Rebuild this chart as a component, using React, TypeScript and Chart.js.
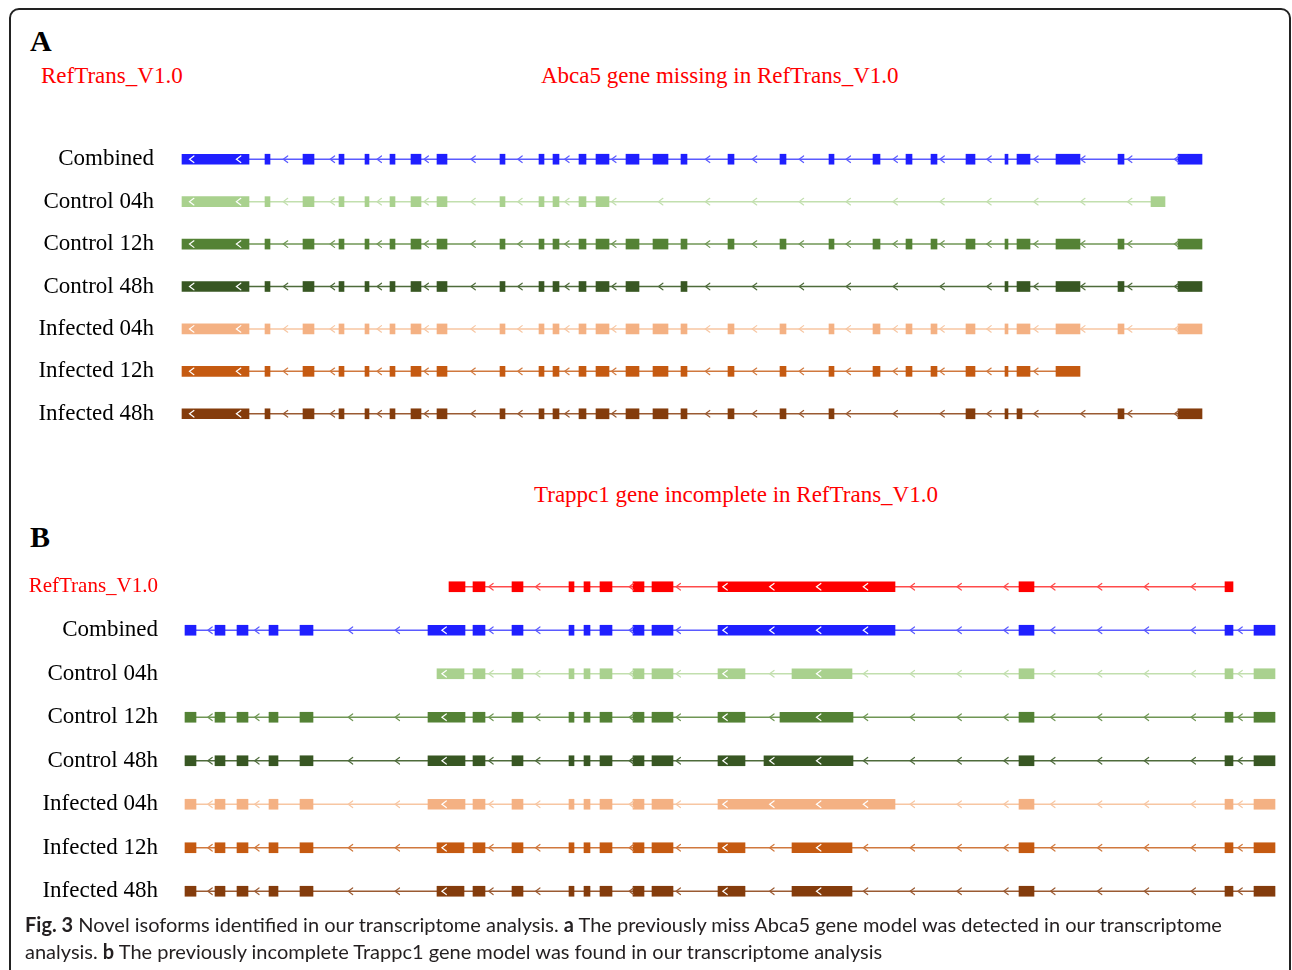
import React, { useEffect, useRef } from "react";
import { Chart, registerables } from "chart.js";

Chart.register(...registerables);

type Exon = [number, number];

// ---------- Panel A (Abca5) ----------
const TRACKS_A = ["Combined", "Control 04h", "Control 12h", "Control 48h", "Infected 04h", "Infected 12h", "Infected 48h"];

const A_COMBINED: Exon[] = [[182, 249], [265, 270], [303, 314], [339, 344], [365, 369], [390, 395], [411, 421], [437, 447], [500, 505], [539, 544], [553, 559], [579, 586], [596, 609], [626, 639], [653, 668], [681, 687], [728, 734], [780, 786], [829, 834], [873, 880], [906, 912], [931, 937], [966, 975], [1005, 1008], [1017, 1030], [1056, 1080], [1118, 1124], [1178, 1202]];
const A_CONTROL_04H: Exon[] = [[182, 249], [265, 270], [303, 314], [339, 344], [365, 369], [390, 395], [411, 421], [437, 447], [500, 505], [539, 544], [553, 559], [579, 586], [596, 609], [1151, 1165]];
const A_CONTROL_12H: Exon[] = [[182, 249], [265, 270], [303, 314], [339, 344], [365, 369], [390, 395], [411, 421], [437, 447], [500, 505], [539, 544], [553, 559], [579, 586], [596, 609], [626, 639], [653, 668], [681, 687], [728, 734], [780, 786], [829, 834], [873, 880], [906, 912], [931, 937], [966, 975], [1005, 1008], [1017, 1030], [1056, 1080], [1118, 1124], [1178, 1202]];
const A_CONTROL_48H: Exon[] = [[182, 249], [265, 270], [303, 314], [339, 344], [365, 369], [390, 395], [411, 421], [437, 447], [500, 505], [539, 544], [553, 559], [579, 586], [596, 609], [626, 639], [681, 687], [1005, 1008], [1017, 1030], [1056, 1080], [1118, 1124], [1178, 1202]];
const A_INFECTED_04H: Exon[] = [[182, 249], [265, 270], [303, 314], [339, 344], [365, 369], [390, 395], [411, 421], [437, 447], [500, 505], [539, 544], [553, 559], [579, 586], [596, 609], [626, 639], [653, 668], [681, 687], [728, 734], [780, 786], [829, 834], [873, 880], [906, 912], [931, 937], [966, 975], [1005, 1008], [1017, 1030], [1056, 1080], [1118, 1124], [1178, 1202]];
const A_INFECTED_12H: Exon[] = [[182, 249], [265, 270], [303, 314], [339, 344], [365, 369], [390, 395], [411, 421], [437, 447], [500, 505], [539, 544], [553, 559], [579, 586], [596, 609], [626, 639], [653, 668], [681, 687], [728, 734], [780, 786], [829, 834], [873, 880], [906, 912], [931, 937], [966, 975], [1005, 1008], [1017, 1030], [1056, 1080]];
const A_INFECTED_48H: Exon[] = [[182, 249], [265, 270], [303, 314], [339, 344], [365, 369], [390, 395], [411, 421], [437, 447], [500, 505], [539, 544], [553, 559], [579, 586], [596, 609], [626, 639], [653, 668], [681, 687], [728, 734], [780, 786], [829, 834], [966, 975], [1005, 1008], [1017, 1022], [1118, 1124], [1178, 1202]];

// ---------- Panel B (Trappc1) ----------
const TRACKS_B = ["RefTrans_V1.0", "Combined", "Control 04h", "Control 12h", "Control 48h", "Infected 04h", "Infected 12h", "Infected 48h"];

const B_REFTRANS: Exon[] = [[449, 465], [473, 485], [512, 523], [569, 574], [584, 590], [600, 612], [633, 644], [652, 673], [718, 895], [1019, 1034], [1225, 1233]];
const B_COMBINED: Exon[] = [[185, 196], [215, 225], [237, 248], [269, 278], [300, 313], [428, 465], [473, 485], [512, 523], [569, 574], [584, 590], [600, 612], [633, 644], [652, 673], [718, 895], [1019, 1034], [1225, 1233], [1254, 1275]];
const B_CONTROL_04H: Exon[] = [[437, 464], [473, 485], [512, 523], [569, 574], [584, 590], [600, 612], [633, 644], [652, 673], [718, 745], [792, 852], [1019, 1034], [1225, 1233], [1254, 1275]];
const B_CONTROL_12H: Exon[] = [[185, 196], [215, 225], [237, 248], [269, 278], [300, 313], [428, 465], [473, 485], [512, 523], [569, 574], [584, 590], [600, 612], [633, 644], [652, 673], [718, 745], [780, 853], [1019, 1034], [1225, 1233], [1254, 1275]];
const B_CONTROL_48H: Exon[] = [[185, 196], [215, 225], [237, 248], [269, 278], [300, 313], [428, 465], [473, 485], [512, 523], [569, 574], [584, 590], [600, 612], [633, 644], [652, 673], [718, 745], [764, 853], [1019, 1034], [1225, 1233], [1254, 1275]];
const B_INFECTED_04H: Exon[] = [[185, 196], [215, 225], [237, 248], [269, 278], [300, 313], [428, 465], [473, 485], [512, 523], [569, 574], [584, 590], [600, 612], [633, 644], [652, 673], [718, 895], [1019, 1034], [1225, 1233], [1254, 1275]];
const B_INFECTED_12H: Exon[] = [[185, 196], [215, 225], [237, 248], [269, 278], [300, 313], [437, 464], [473, 485], [512, 523], [569, 574], [584, 590], [600, 612], [633, 644], [652, 673], [718, 745], [792, 852], [1019, 1034], [1225, 1233], [1254, 1275]];
const B_INFECTED_48H: Exon[] = [[185, 196], [215, 225], [237, 248], [269, 278], [300, 313], [437, 464], [473, 485], [512, 523], [569, 574], [584, 590], [600, 612], [633, 644], [652, 673], [718, 745], [792, 852], [1019, 1034], [1225, 1233], [1254, 1275]];

const EXONS_A = [A_COMBINED, A_CONTROL_04H, A_CONTROL_12H, A_CONTROL_48H, A_INFECTED_04H, A_INFECTED_12H, A_INFECTED_48H];
const EXONS_B = [B_REFTRANS, B_COMBINED, B_CONTROL_04H, B_CONTROL_12H, B_CONTROL_48H, B_INFECTED_04H, B_INFECTED_12H, B_INFECTED_48H];

// ---------- styles ----------
const FILL_A = ["#1f1fff", "#a9d18e", "#548235", "#385723", "#f4b183", "#c55a11", "#843c0c"];
const LINE_A = ["#5a5aff", "#c2dfae", "#6f9654", "#4e6b3b", "#f7c6a2", "#d0783d", "#9a5a32"];
const FILL_B = ["#ff0000", ...FILL_A];
const LINE_B = ["#ff4a4a", ...LINE_A];
const LABEL_COLOR_A = TRACKS_A.map(() => "#000000");
const LABEL_COLOR_B = TRACKS_B.map((t, i) => (i === 0 ? "#ff0000" : "#000000"));
const LABEL_SIZE_A = TRACKS_A.map(() => 23);
const LABEL_SIZE_B = TRACKS_B.map((t, i) => (i === 0 ? 21 : 23));

const SERIF = "'Liberation Serif', 'Times New Roman', serif";
const X_MAX = 1292;

function chevronPlugin(exonsList: Exon[][], origin: number, step: number, lineColors: string[]) {
  return {
    id: "chevrons",
    afterDatasetsDraw(chart: any) {
      const { ctx } = chart;
      const xs = chart.scales.x;
      const ys = chart.scales.y;
      ctx.save();
      ctx.lineCap = "round";
      exonsList.forEach((exons, i) => {
        const yp = ys.getPixelForValue(i);
        const start = Math.min(...exons.map((e) => e[0]));
        const end = Math.max(...exons.map((e) => e[1]));
        const k0 = Math.ceil((start - origin) / step);
        for (let k = k0; origin + k * step <= end; k++) {
          const p = origin + k * step;
          const hit = exons.find(([s, e]) => p > s && p < e);
          let color = lineColors[i];
          if (hit) {
            if (hit[1] - hit[0] >= 20 && p - hit[0] >= 4 && hit[1] - p >= 4) color = "#ffffff";
            else continue;
          }
          const px = xs.getPixelForValue(p);
          ctx.strokeStyle = color;
          ctx.lineWidth = 1.2;
          ctx.beginPath();
          ctx.moveTo(px + 2.2, yp - 3.3);
          ctx.lineTo(px - 2.2, yp);
          ctx.lineTo(px + 2.2, yp + 3.3);
          ctx.stroke();
        }
      });
      ctx.restore();
    },
  };
}

function buildConfig(
  labels: string[],
  exonsList: Exon[][],
  fills: string[],
  lines: string[],
  labelColors: string[],
  labelSizes: number[],
  yWidth: number,
  plugin: any
): any {
  const datasets: any[] = [];
  exonsList.forEach((exons, i) => {
    const start = Math.min(...exons.map((e) => e[0]));
    const end = Math.max(...exons.map((e) => e[1]));
    datasets.push({
      type: "line",
      indexAxis: "y",
      data: [
        { x: start, y: labels[i] },
        { x: end, y: labels[i] },
      ],
      borderColor: lines[i],
      borderWidth: 1.5,
      pointRadius: 0,
      order: 2,
    });
    datasets.push({
      type: "bar",
      indexAxis: "y",
      data: exons.map(([s, e]) => ({ x: [s, e], y: labels[i] })),
      backgroundColor: fills[i],
      borderWidth: 0,
      barThickness: 10,
      grouped: false,
      order: 1,
    });
  });
  return {
    type: "bar",
    data: { labels, datasets },
    options: {
      indexAxis: "y",
      animation: false,
      responsive: false,
      devicePixelRatio: 1,
      events: [],
      layout: { padding: 0 },
      plugins: { legend: { display: false }, tooltip: { enabled: false }, title: { display: false } },
      scales: {
        x: { type: "linear", display: false, min: yWidth, max: X_MAX },
        y: {
          type: "category",
          offset: true,
          grid: { display: false, drawTicks: false },
          border: { display: false },
          ticks: {
            padding: 0,
            color: (c: any) => labelColors[c.index],
            font: (c: any) => ({ family: SERIF, size: labelSizes[c.index] }),
          },
          afterFit: (s: any) => {
            s.width = yWidth;
            s.paddingTop = 0;
            s.paddingBottom = 0;
          },
        },
      },
    },
    plugins: [plugin],
  };
}

const abs = (left: number, top: number, extra: any = {}) => ({
  position: "absolute" as const,
  left,
  top,
  whiteSpace: "nowrap" as const,
  ...extra,
});

export default function App() {
  const refA = useRef<HTMLCanvasElement>(null);
  const refB = useRef<HTMLCanvasElement>(null);

  useEffect(() => {
    const chartA = new Chart(
      refA.current as HTMLCanvasElement,
      buildConfig(TRACKS_A, EXONS_A, FILL_A, LINE_A, LABEL_COLOR_A, LABEL_SIZE_A, 154, chevronPlugin(EXONS_A, 191.7, 46.9, LINE_A))
    );
    const chartB = new Chart(
      refB.current as HTMLCanvasElement,
      buildConfig(TRACKS_B, EXONS_B, FILL_B, LINE_B, LABEL_COLOR_B, LABEL_SIZE_B, 158, chevronPlugin(EXONS_B, 210, 46.82, LINE_B))
    );
    return () => {
      chartA.destroy();
      chartB.destroy();
    };
  }, []);

  const serifText = { fontFamily: SERIF, fontSize: 23, lineHeight: "23px" };

  return (
    <div style={{ position: "fixed", left: 0, top: 0, width: 1292, height: 970, overflow: "hidden", background: "#ffffff" }}>
      <div style={{ position: "absolute", left: 9, top: 8, width: 1278, height: 1100, border: "2px solid #222", borderRadius: 10 }} />
      <div style={abs(30, 26, { fontFamily: SERIF, fontSize: 30, lineHeight: "30px", fontWeight: "bold", color: "#000" })}>A</div>
      <div style={abs(41, 64, { ...serifText, color: "#ff0000" })}>RefTrans_V1.0</div>
      <div style={abs(541, 64, { ...serifText, color: "#ff0000" })}>Abca5 gene missing in RefTrans_V1.0</div>
      <canvas ref={refA} width={1292} height={297} style={{ position: "absolute", left: 0, top: 138, width: 1292, height: 297 }} />
      <div style={abs(534, 483, { ...serifText, color: "#ff0000" })}>Trappc1 gene incomplete in RefTrans_V1.0</div>
      <div style={abs(30, 522, { fontFamily: SERIF, fontSize: 30, lineHeight: "30px", fontWeight: "bold", color: "#000" })}>B</div>
      <canvas ref={refB} width={1292} height={348} style={{ position: "absolute", left: 0, top: 565, width: 1292, height: 348 }} />
      <div style={abs(25, 911, { fontFamily: "Lato, 'Liberation Sans', sans-serif", fontSize: 20, lineHeight: "27px", color: "#231f20" })}>
        <b>Fig. 3</b> Novel isoforms identified in our transcriptome analysis. <b>a</b> The previously miss Abca5 gene model was detected in our transcriptome
        <br />
        analysis. <b>b</b> The previously incomplete Trappc1 gene model was found in our transcriptome analysis
      </div>
    </div>
  );
}
